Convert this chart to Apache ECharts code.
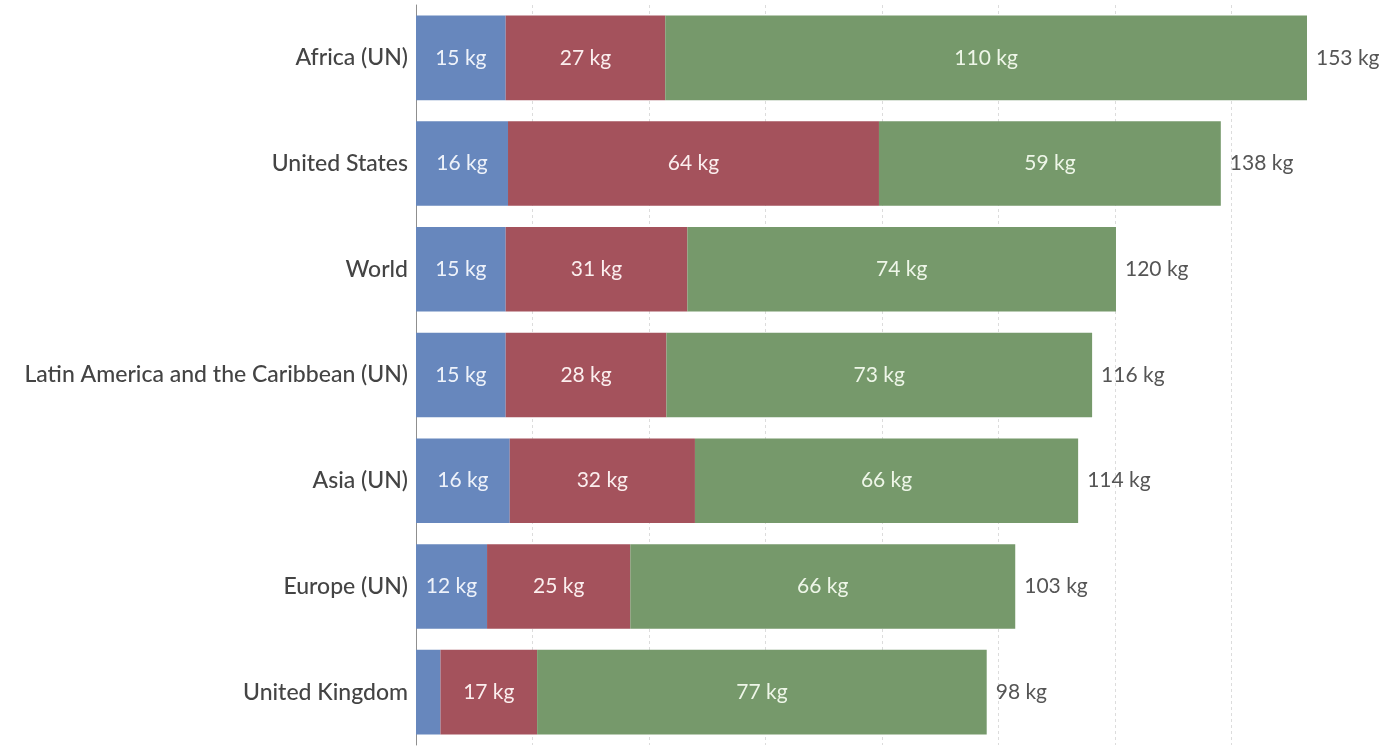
<!DOCTYPE html>
<html>
<head>
<meta charset="utf-8">
<script src="https://cdn.jsdelivr.net/npm/echarts@6/dist/echarts.min.js"></script>
<style>
html,body{margin:0;padding:0;background:#fff;}
#chart{width:1389px;height:747px;}
</style>
</head>
<body>
<div id="chart"></div>
<script>
const categories = ["Africa (UN)", "United States", "World", "Latin America and the Caribbean (UN)", "Asia (UN)", "Europe (UN)", "United Kingdom"];
const seriesBlue = [15.4, 15.8, 15.4, 15.4, 16.1, 12.2, 4.2];
const seriesRed = [27.4, 63.7, 31.2, 27.6, 31.8, 24.6, 16.6];
const seriesGreen = [110.2, 58.7, 73.6, 73.1, 65.8, 66.1, 77.2];
const totals = [153, 138, 120, 116, 114, 103, 98];

const chart = echarts.init(document.getElementById('chart'), null, {renderer: 'canvas'});
const FONT = 'Lato';
function inLabel(color) {
  return {
    show: true, position: 'inside', color: color, fontFamily: FONT, fontSize: 21,
    formatter: p => (p.value >= 8 ? Math.round(p.value) + ' kg' : '')
  };
}
chart.setOption({
  animation: false,
  grid: {left: 416, right: 82, top: 5, bottom: 2, containLabel: false},
  xAxis: {
    type: 'value', min: 0, max: 153, interval: 20,
    axisLine: {show: false}, axisTick: {show: false}, axisLabel: {show: false},
    splitLine: {show: true, showMinLine: false, showMaxLine: false, lineStyle: {color: '#dcdcdc', type: [3, 3], width: 1}}
  },
  yAxis: {
    type: 'category', data: categories, inverse: true,
    axisLine: {show: true, lineStyle: {color: '#8f8f8f', width: 1}},
    axisTick: {show: false},
    axisLabel: {color: '#444', fontFamily: FONT, fontSize: 23, fontWeight: 500, margin: 8}
  },
  series: [
    {type: 'bar', stack: 'a', data: seriesBlue, barCategoryGap: '20%', itemStyle: {color: '#6787bd'}, label: inLabel('#eef2fa')},
    {type: 'bar', stack: 'a', data: seriesRed, itemStyle: {color: '#a4525c'}, label: inLabel('#fbeeee')},
    {type: 'bar', stack: 'a', data: seriesGreen, itemStyle: {color: '#76996b'}, label: inLabel('#eef6e8')},
    {type: 'bar', stack: 'a', data: totals.map(() => 0), itemStyle: {color: 'transparent'},
     label: {show: true, position: 'right', distance: 9, color: '#555', fontFamily: FONT, fontSize: 21,
             formatter: p => totals[p.dataIndex] + ' kg'}}
  ]
});
</script>
</body>
</html>
